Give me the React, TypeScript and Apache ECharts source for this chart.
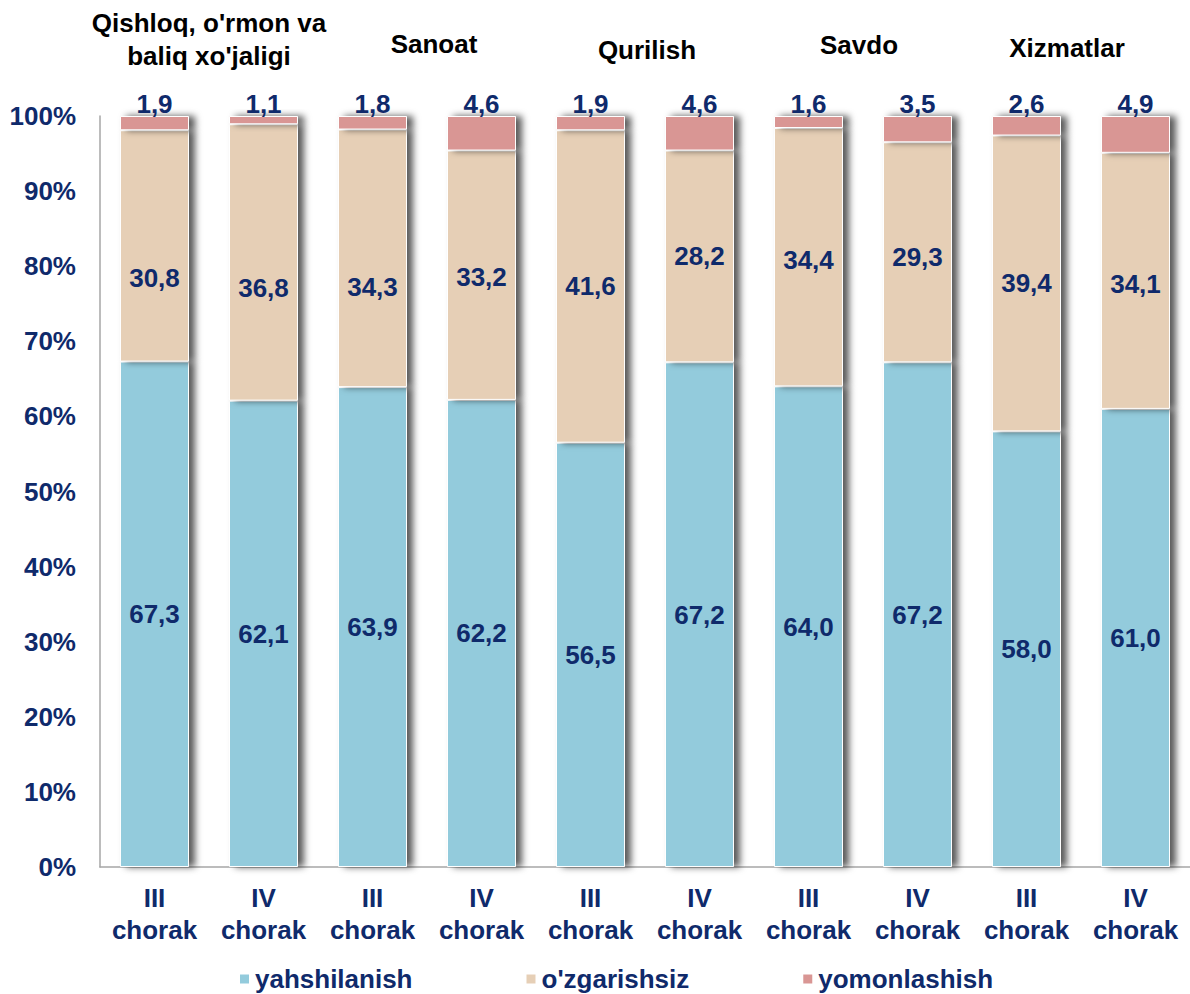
import React, { useEffect, useRef } from "react";
import * as echarts from "echarts";

const quarters = [
  "III\nchorak", "IV\nchorak", "III\nchorak", "IV\nchorak", "III\nchorak",
  "IV\nchorak", "III\nchorak", "IV\nchorak", "III\nchorak", "IV\nchorak",
];
const groups = ["Qishloq, o'rmon va\nbaliq xo'jaligi", "Sanoat", "Qurilish", "Savdo", "Xizmatlar"];
const yTicks = [0, 10, 20, 30, 40, 50, 60, 70, 80, 90, 100];

const yahshilanish = [67.3, 62.1, 63.9, 62.2, 56.5, 67.2, 64.0, 67.2, 58.0, 61.0];
const ozgarishsiz = [30.8, 36.8, 34.3, 33.2, 41.6, 28.2, 34.4, 29.3, 39.4, 34.1];
const yomonlashish = [1.9, 1.1, 1.8, 4.6, 1.9, 4.6, 1.6, 3.5, 2.6, 4.9];

const seriesNames = ["yahshilanish", "o'zgarishsiz", "yomonlashish"];

// layout tweaks (label nudges, title shifts) — not data
const beigeLabelNudge = [32, 26, 29, 2, 0, 0, 3, 5, 0, 3];
const titleShiftX = [0, 7, 2, -4, -14];
const titleLift = [0, 12, 6, 11, 8];

const NAVY = "#0f2a6b";
const FONT = "'Liberation Sans', Arial, sans-serif";
const fmt = (v: number) => v.toFixed(1).replace(".", ",");

export default function App() {
  const ref = useRef<HTMLDivElement>(null);
  useEffect(() => {
    if (!ref.current) return;
    const chart = echarts.init(ref.current, null, { renderer: "svg" });
    const labelBase = {
      show: true,
      color: NAVY,
      fontSize: 26,
      fontWeight: "bold" as const,
      fontFamily: FONT,
      formatter: (p: any) => fmt(p.value),
    };
    const itemBase = {
      borderColor: "#ffffff",
      borderWidth: 1,
      shadowColor: "rgba(0,0,0,0.65)",
      shadowBlur: 7,
      shadowOffsetX: 6,
      shadowOffsetY: 0,
    };
    chart.setOption({
      animation: false,
      textStyle: { fontFamily: FONT },
      grid: { left: 100, top: 116, width: 1094, height: 751, containLabel: false },
      legend: {
        data: seriesNames,
        left: 233,
        top: 961,
        itemWidth: 11,
        itemHeight: 11,
        itemGap: 112,
        icon: "rect",
        textStyle: { color: NAVY, fontSize: 26, fontWeight: "bold", fontFamily: FONT, lineHeight: 26 },
      },
      xAxis: [
        {
          type: "category",
          data: quarters,
          axisLine: { show: true, lineStyle: { color: "#a6a6a6", width: 1.5 } },
          axisTick: { show: false },
          axisLabel: {
            interval: 0,
            margin: 15,
            color: NAVY,
            fontSize: 26,
            fontWeight: "bold",
            fontFamily: FONT,
            lineHeight: 32,
          },
        },
        {
          type: "category",
          position: "top",
          data: groups.map((g, i) => ({
            value: g,
            textStyle: {
              padding: [0, titleShiftX[i] < 0 ? -2 * titleShiftX[i] : 0, titleLift[i], titleShiftX[i] > 0 ? 2 * titleShiftX[i] : 0],
            },
          })),
          axisLine: { show: false },
          axisTick: { show: false },
          splitLine: { show: false },
          axisLabel: {
            interval: 0,
            margin: 44,
            color: "#000000",
            fontSize: 26,
            fontWeight: "bold",
            fontFamily: FONT,
            lineHeight: 33,
          },
        },
      ],
      yAxis: {
        type: "value",
        min: yTicks[0],
        max: yTicks[yTicks.length - 1],
        interval: 10,
        axisLine: { show: true, lineStyle: { color: "#a6a6a6", width: 1.5 } },
        axisTick: { show: false },
        splitLine: { show: false },
        axisLabel: {
          margin: 24,
          color: NAVY,
          fontSize: 26,
          fontWeight: "bold",
          fontFamily: FONT,
          formatter: "{value}%",
        },
      },
      series: [
        {
          name: seriesNames[0],
          type: "bar",
          stack: "total",
          barWidth: 69,
          data: yahshilanish,
          itemStyle: { ...itemBase, color: "#93cbdc" },
          label: { ...labelBase, position: "inside" },
        },
        {
          name: seriesNames[1],
          type: "bar",
          stack: "total",
          barWidth: 69,
          data: ozgarishsiz.map((v, i) => ({ value: v, label: { offset: [0, beigeLabelNudge[i]] } })),
          itemStyle: { ...itemBase, color: "#e6cfb6" },
          label: { ...labelBase, position: "inside" },
        },
        {
          name: seriesNames[2],
          type: "bar",
          stack: "total",
          barWidth: 69,
          data: yomonlashish,
          itemStyle: { ...itemBase, color: "#d99694" },
          label: { ...labelBase, position: "top", distance: 0, lineHeight: 24 },
        },
      ],
    });
    return () => chart.dispose();
  }, []);
  return (
    <div
      ref={ref}
      style={{ position: "absolute", left: 0, top: 0, width: 1190, height: 994, background: "#ffffff" }}
    />
  );
}
